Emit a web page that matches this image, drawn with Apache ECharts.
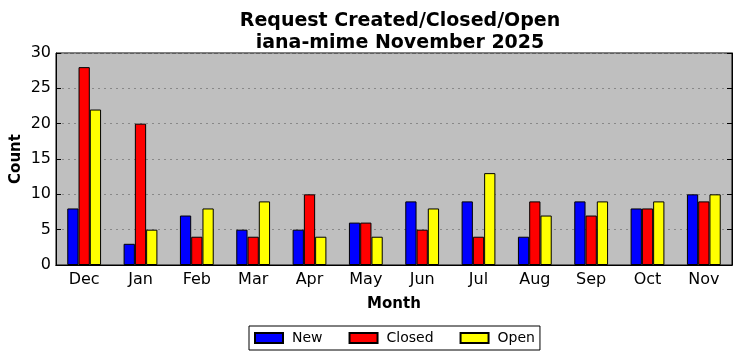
<!DOCTYPE html>
<html>
<head>
<meta charset="utf-8">
<script src="https://cdn.jsdelivr.net/npm/echarts@6/dist/echarts.min.js"></script>
<style>
  html, body { margin: 0; padding: 0; background: #fff; }
  #chart { width: 742px; height: 361px; }
</style>
</head>
<body>
<div id="chart"></div>
<script>
const months = ['Dec', 'Jan', 'Feb', 'Mar', 'Apr', 'May', 'Jun', 'Jul', 'Aug', 'Sep', 'Oct', 'Nov'];
const newCounts = [8, 3, 7, 5, 5, 6, 9, 9, 4, 9, 8, 10];
const closedCounts = [28, 20, 4, 4, 10, 6, 5, 4, 9, 7, 8, 9];
const openCounts = [22, 5, 8, 9, 4, 4, 8, 13, 7, 9, 9, 10];

let chart = echarts.init(document.getElementById('chart'));
const font = 'DejaVu Sans';

function barSeries(name, data, color) {
    return {
        name: name,
        type: 'bar',
        data: data,
        barWidth: '20%',
        barGap: '0%',
        itemStyle: { color: color, borderColor: '#000', borderWidth: 1 }
    };
}

let options = {
    backgroundColor: '#fff',
    animation: false,
    textStyle: { fontFamily: font },
    title: {
        text: 'Request Created/Closed/Open\niana-mime November 2025',
        left: 395,
        top: 5,
        textAlign: 'center',
        textStyle: { fontFamily: font, fontSize: 19, fontWeight: 'bold', color: '#000', lineHeight: 22 }
    },
    legend: {
        bottom: 11,
        left: 249,
        itemWidth: 28,
        itemHeight: 10,
        itemGap: 26,
        padding: [5, 5, 5, 5],
        borderColor: '#000',
        borderWidth: 1,
        borderRadius: 0,
        icon: 'rect',
        textStyle: { fontFamily: font, fontSize: 14, color: '#000', padding: [0, 0, 0, 4] },
        data: ['New', 'Closed', 'Open']
    },
    grid: { left: 56, right: 10, top: 53, bottom: 96, containLabel: false, outerBoundsMode: 'none', show: true, backgroundColor: '#bfbfbf', borderColor: '#000', borderWidth: 1 },
    xAxis: [{
        type: 'category',
        data: months,
        name: 'Month',
        nameLocation: 'middle',
        nameGap: 32,
        nameMoveOverlap: false,
        nameTextStyle: { fontFamily: font, fontSize: 15, fontWeight: 'bold', color: '#000' },
        axisLine: { lineStyle: { color: '#000' } },
        axisTick: { inside: true, alignWithLabel: true, length: 5, lineStyle: { color: '#000' } },
        axisLabel: { fontFamily: font, fontSize: 16, color: '#000', margin: 7 }
    }, {
        type: 'category',
        data: months,
        position: 'top',
        axisLine: { lineStyle: { color: '#000' } },
        axisTick: { inside: true, alignWithLabel: true, length: 5, lineStyle: { color: '#000' } },
        axisLabel: { show: false }
    }],
    yAxis: [{
        type: 'value',
        min: 0,
        max: 30,
        interval: 5,
        name: 'Count',
        nameLocation: 'middle',
        nameGap: 32,
        nameMoveOverlap: false,
        nameTextStyle: { fontFamily: font, fontSize: 15, fontWeight: 'bold', color: '#000' },
        axisLine: { show: true, lineStyle: { color: '#000' } },
        axisTick: { show: true, inside: true, length: 5, lineStyle: { color: '#000' } },
        axisLabel: { fontFamily: font, fontSize: 16, color: '#000', margin: 5 },
        splitLine: { show: true, lineStyle: { color: '#888', type: [2, 4], width: 1 } }
    }, {
        type: 'value',
        min: 0,
        max: 30,
        interval: 5,
        position: 'right',
        axisLine: { show: true, lineStyle: { color: '#000' } },
        axisTick: { show: true, inside: true, length: 5, lineStyle: { color: '#000' } },
        axisLabel: { show: false },
        splitLine: { show: false }
    }],
    series: [
        barSeries('New', newCounts, '#0000ff'),
        barSeries('Closed', closedCounts, '#ff0000'),
        barSeries('Open', openCounts, '#ffff00')
    ]
};
chart.setOption(options);
</script>
</body>
</html>
